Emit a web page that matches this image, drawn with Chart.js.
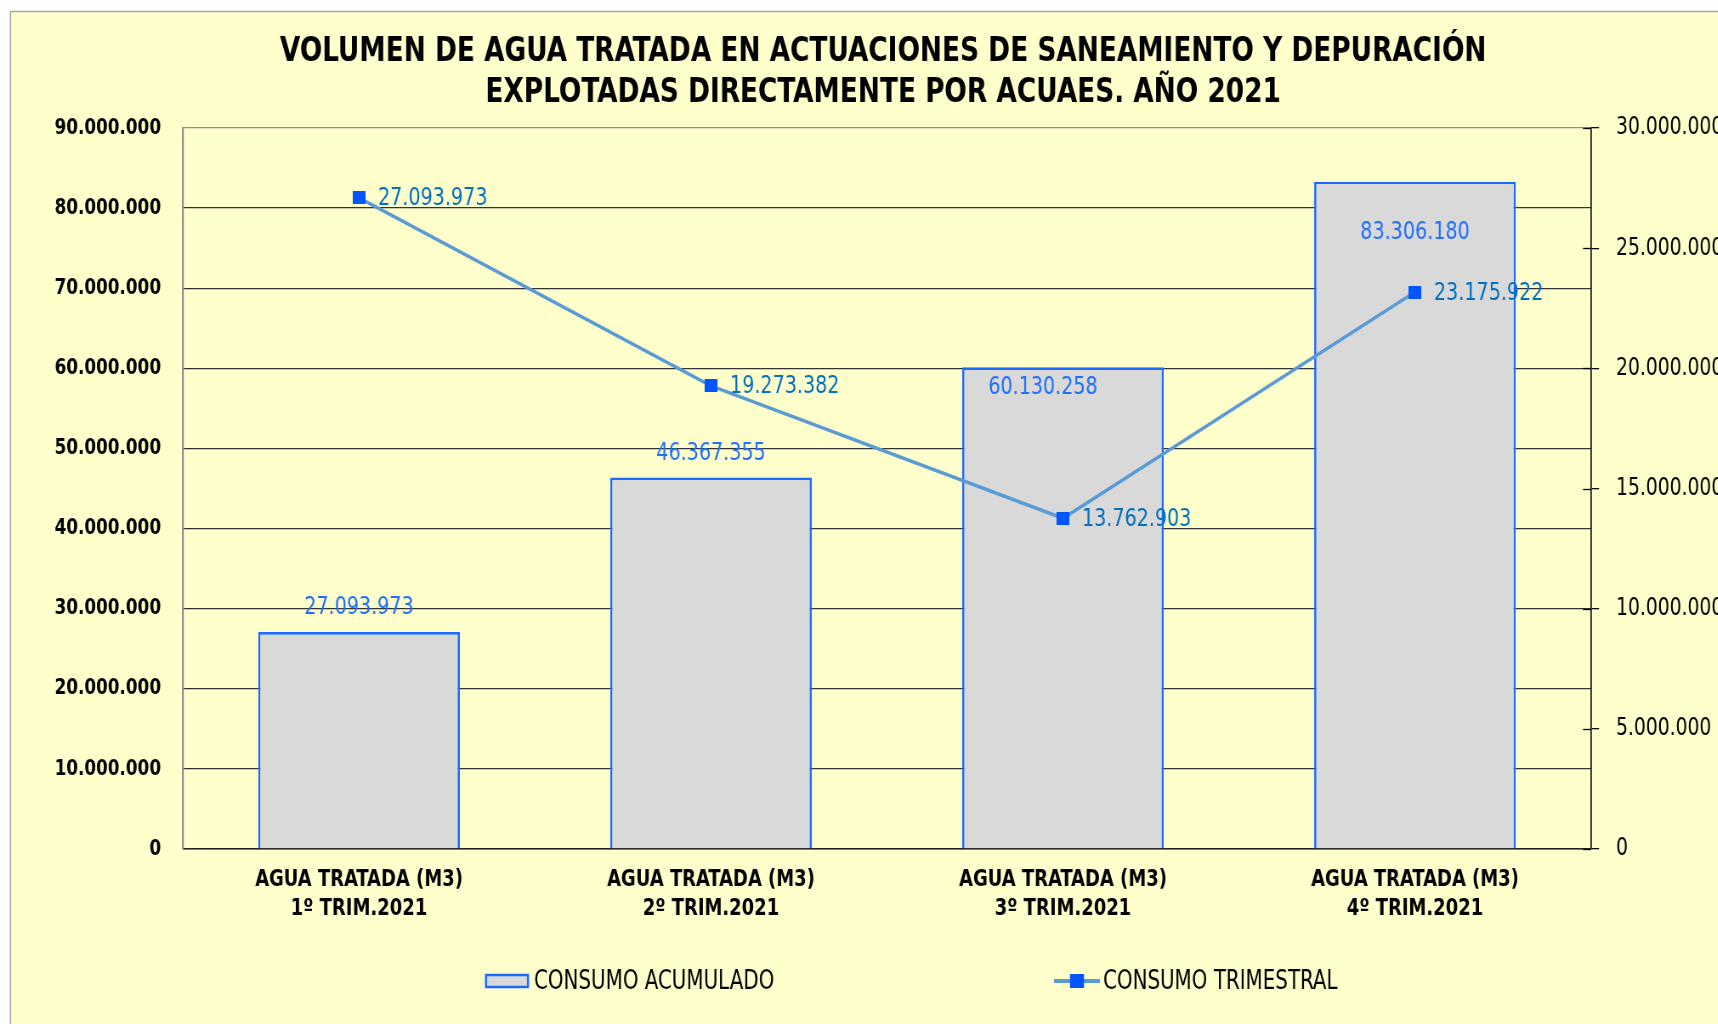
<!DOCTYPE html>
<html><head><meta charset="utf-8">
<script src="https://cdn.jsdelivr.net/npm/chart.js@4.4.0/dist/chart.umd.min.js"></script>
<style>
html,body{margin:0;padding:0;background:#fff;overflow:hidden;width:1718px;height:1024px}
#c{position:absolute;left:0;top:0;transform:scaleX(0.85);transform-origin:0 0}
</style></head>
<body>
<canvas id="c" width="2078" height="1024" style="width:2078px;height:1024px"></canvas>
<script>
const titleLines = ['VOLUMEN DE AGUA TRATADA EN ACTUACIONES DE SANEAMIENTO Y DEPURACIÓN', 'EXPLOTADAS DIRECTAMENTE POR ACUAES. AÑO 2021'];
const categoryNames = ['AGUA TRATADA (M3)', 'AGUA TRATADA (M3)', 'AGUA TRATADA (M3)', 'AGUA TRATADA (M3)'];
const quarterNames = ['1º TRIM.2021', '2º TRIM.2021', '3º TRIM.2021', '4º TRIM.2021'];
const seriesNames = ['CONSUMO ACUMULADO', 'CONSUMO TRIMESTRAL'];
const accumulated = [27093973, 46367355, 60130258, 83306180];
const quarterly = [27093973, 19273382, 13762903, 23175922];
const leftAxisRange = [0, 90000000, 10000000];
const rightAxisRange = [0, 30000000, 5000000];

// The canvas is drawn in a horizontally stretched space and narrowed by CSS (condensed look).
const SX = 0.85;
const vx = v => v / SX;

const FONT = "'Liberation Sans Narrow','Arial Narrow','DejaVu Sans Condensed',sans-serif";
function fmt(v) { return String(Math.round(v)).replace(/\B(?=(\d{3})+(?!\d))/g, '.'); }

const BAR_FILL = '#d9d9d9', BAR_BORDER = '#1a6aff', LINE_COLOR = '#5b9bd5', MARKER = '#0055ff';

const markerImg = document.createElement('canvas');
markerImg.width = 15; markerImg.height = 13;
(function () { const m = markerImg.getContext('2d'); m.fillStyle = MARKER; m.fillRect(0, 0, 15, 13); })();

const decor = {
  id: 'decor',
  beforeDraw(c) {
    const g = c.ctx, W = c.width, H = c.height;
    g.save();
    g.fillStyle = '#ffffff'; g.fillRect(0, 0, W, H);
    g.fillStyle = '#ffffcc'; g.fillRect(vx(10), 11, W, H);
    g.strokeStyle = '#a6a6a6'; g.lineWidth = 1.6;
    g.beginPath(); g.moveTo(vx(10.5), H); g.lineTo(vx(10.5), 11.5); g.lineTo(W, 11.5); g.stroke();
    g.restore();
  },
  afterDatasetsDraw(c, args, o) {
    const g = c.ctx;
    g.save();
    g.textBaseline = 'middle';
    const mb = c.getDatasetMeta(1);
    g.font = '25px ' + FONT; g.fillStyle = o.barLabelColor; g.textAlign = 'center';
    mb.data.forEach((el, i) => {
      g.fillText(fmt(c.data.datasets[1].data[i]), el.x + vx(o.barDx[i]), el.y + o.barDy[i]);
    });
    const ml = c.getDatasetMeta(0);
    g.fillStyle = o.lineLabelColor; g.textAlign = 'left';
    ml.data.forEach((el, i) => {
      g.fillText(fmt(c.data.datasets[0].data[i]), el.x + vx(19), el.y + 1);
    });
    g.restore();
  },
  afterDraw(c, args, o) {
    const g = c.ctx, a = c.chartArea, s = c.scales.y1;
    g.save();
    g.strokeStyle = '#000'; g.lineWidth = 1.3;
    s.ticks.forEach(t => {
      const y = Math.round(s.getPixelForValue(t.value)) + 0.5;
      g.beginPath(); g.moveTo(a.right - vx(8), y); g.lineTo(a.right, y); g.stroke();
    });
    const ly = o.legendY;
    const x1 = vx(o.legendX[0]), x2 = vx(o.legendX[1]);
    g.fillStyle = BAR_FILL; g.fillRect(x1, ly - 7, vx(44), 14);
    g.strokeStyle = BAR_BORDER; g.lineWidth = 2.5; g.strokeRect(x1 + 1.2, ly - 6, vx(44) - 2.4, 12);
    g.strokeStyle = LINE_COLOR; g.lineWidth = 4;
    g.beginPath(); g.moveTo(x2, ly); g.lineTo(x2 + vx(46), ly); g.stroke();
    g.fillStyle = MARKER; g.fillRect(x2 + vx(16), ly - 7, vx(14), 14);
    g.fillStyle = '#000'; g.font = '26px ' + FONT; g.textBaseline = 'middle'; g.textAlign = 'left';
    g.fillText(c.data.datasets[1].label, x1 + vx(49), ly + 1);
    g.fillText(c.data.datasets[0].label, x2 + vx(49), ly + 1);
    g.restore();
  }
};

new Chart(document.getElementById('c'), {
  type: 'bar',
  data: {
    labels: categoryNames.map((n, i) => [n, quarterNames[i]]),
    datasets: [
      {
        type: 'line', label: seriesNames[1], data: quarterly, yAxisID: 'y1',
        borderColor: LINE_COLOR, borderWidth: 3.5, tension: 0,
        pointStyle: markerImg, pointRadius: 8, order: 0
      },
      {
        type: 'bar', label: seriesNames[0], data: accumulated, yAxisID: 'y',
        backgroundColor: BAR_FILL, borderColor: BAR_BORDER, borderWidth: 2.7,
        barPercentage: 0.573, categoryPercentage: 1, order: 1
      }
    ]
  },
  options: {
    responsive: false, animation: false, devicePixelRatio: 1,
    layout: { padding: 0 },
    plugins: {
      legend: { display: false },
      tooltip: { enabled: false },
      title: {
        display: true, text: titleLines, color: '#000',
        font: { family: FONT, size: 34.5, weight: 'bold', lineHeight: 1.19 },
        padding: { top: 31.5, bottom: 14.4 }
      },
      decor: {
        barLabelColor: '#1f70ff', lineLabelColor: '#0070c0',
        barDx: [0, 0, -20, 0], barDy: [-24, -24, 20, 51],
        legendX: [485, 1054], legendY: 981
      }
    },
    scales: {
      x: {
        grid: { display: false, drawTicks: false },
        border: { color: '#222', width: 1.5 },
        ticks: { color: '#000', font: { family: FONT, size: 23.5, weight: 'bold', lineHeight: 1.23 }, padding: 16.5, maxRotation: 0, autoSkip: false },
        afterFit(s) { s.height = 175; }
      },
      y: {
        position: 'left', min: leftAxisRange[0], max: leftAxisRange[1],
        ticks: { stepSize: leftAxisRange[2], callback: v => fmt(v), color: '#000', font: { family: FONT, size: 22, weight: 'bold' }, padding: vx(22) },
        grid: { color: ctx => (ctx.tick && ctx.tick.value === leftAxisRange[1]) ? '#8c8c8c' : '#333333', lineWidth: 1.3, drawTicks: false },
        border: { color: '#8c8c8c', width: 2.2 },
        afterFit(s) { s.width = vx(183); }
      },
      y1: {
        position: 'right', min: rightAxisRange[0], max: rightAxisRange[1],
        ticks: { stepSize: rightAxisRange[2], callback: v => fmt(v), color: '#000', font: { family: FONT, size: 24.5 }, padding: vx(17) },
        grid: { drawOnChartArea: false, drawTicks: true, tickLength: vx(8), color: '#000', lineWidth: 1.3 },
        border: { color: '#111', width: 1.7 },
        afterFit(s) { s.width = 2078 - vx(1591); }
      }
    }
  },
  plugins: [decor]
});
</script>
</body></html>
